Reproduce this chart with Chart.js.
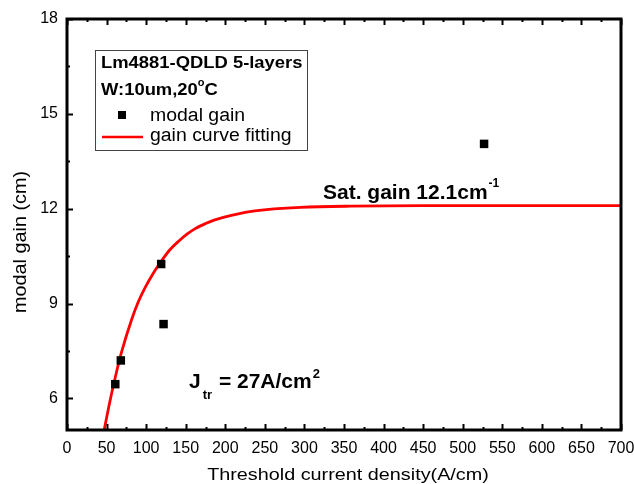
<!DOCTYPE html>
<html>
<head>
<meta charset="utf-8">
<script src="https://cdn.jsdelivr.net/npm/chart.js@4/dist/chart.umd.min.js"></script>
<style>
  html, body { margin: 0; padding: 0; background: #fff; }
  canvas { display: block; }
</style>
</head>
<body>
<canvas id="gain" width="634" height="484"></canvas>
<script>
// measured modal gain points
const gainX = [61, 68, 119, 122, 527];
const gainY = [6.45, 7.2, 10.25, 8.35, 14.05];

// fitted curve
const fitX = [44, 47, 54, 61, 69, 82, 90, 99, 110, 120, 130, 141, 152, 162, 175, 185, 200, 215, 235, 252, 295, 358, 450, 550, 700];
const fitY = [4.6, 5.0, 5.88, 6.67, 7.47, 8.52, 9.05, 9.52, 10.0, 10.37, 10.7, 10.97, 11.2, 11.37, 11.53, 11.63, 11.74, 11.83, 11.92, 11.97, 12.04, 12.08, 12.1, 12.1, 12.1];

// axis ticks
const xTicks = [0, 50, 100, 150, 200, 250, 300, 350, 400, 450, 500, 550, 600, 650, 700];
const yTicks = [6, 9, 12, 15, 18];
const xMinorStep = 25;
const yMinorStep = 1.5;

const FONT = '"Liberation Sans", Arial, sans-serif';

function toPoints(xs, ys) {
    return xs.map((x, i) => ({x: x, y: ys[i]}));
}

// text drawn a little wider than the font, like the original
function wideText(ctx, str, x, y, sx) {
    ctx.save();
    ctx.translate(x, y);
    ctx.scale(sx, 1);
    ctx.fillText(str, 0, 0);
    ctx.restore();
    return ctx.measureText(str).width * sx;
}

// draws frame, inward ticks, axis titles, the boxed legend and the notes
const decorations = {
    id: 'decorations',
    afterDraw(chart) {
        const ctx = chart.ctx;
        const a = chart.chartArea;
        const xs = chart.scales.x;
        const ys = chart.scales.y;
        ctx.save();

        // ticks
        ctx.strokeStyle = '#000';
        ctx.lineWidth = 2;
        for (let v = xs.min; v <= xs.max; v += xMinorStep) {
            const px = Math.round(xs.getPixelForValue(v)) + 0.5;
            const len = xTicks.includes(v) ? 6 : 3;
            ctx.beginPath();
            ctx.moveTo(px, a.bottom); ctx.lineTo(px, a.bottom - len);
            ctx.moveTo(px, a.top); ctx.lineTo(px, a.top + len);
            ctx.stroke();
        }
        for (let v = 6 - yMinorStep; v <= ys.max; v += yMinorStep) {
            if (v < ys.min) continue;
            const py = Math.round(ys.getPixelForValue(v)) + 0.5;
            const len = yTicks.includes(v) ? 6 : 3;
            ctx.beginPath();
            ctx.moveTo(a.left, py); ctx.lineTo(a.left + len, py);
            ctx.stroke();
        }

        // frame
        ctx.lineWidth = 3;
        ctx.strokeRect(a.left, a.top, a.right - a.left, a.bottom - a.top);

        // axis titles
        ctx.fillStyle = '#000';
        ctx.textAlign = 'center';
        ctx.textBaseline = 'alphabetic';
        ctx.font = '16.5px ' + FONT;
        wideText(ctx, 'Threshold current density(A/cm)', 348, 480, 1.2);
        ctx.save();
        ctx.translate(26, 242);
        ctx.rotate(-Math.PI / 2);
        ctx.font = '18px ' + FONT;
        wideText(ctx, 'modal gain (cm)', 0, 0, 1.1);
        ctx.restore();

        // legend box
        ctx.lineWidth = 1;
        ctx.strokeStyle = '#444';
        ctx.strokeRect(95.5, 50.5, 212, 100);
        ctx.textAlign = 'left';
        ctx.font = 'bold 16px ' + FONT;
        wideText(ctx, 'Lm4881-QDLD 5-layers', 101, 68, 1.15);
        let w = wideText(ctx, 'W:10um,20', 101, 95, 1.15);
        ctx.font = 'bold 10px ' + FONT;
        w += wideText(ctx, 'o', 101 + w, 86, 1.1);
        ctx.font = 'bold 16px ' + FONT;
        wideText(ctx, 'C', 101 + w, 95, 1.15);

        ctx.font = '18px ' + FONT;
        ctx.fillRect(118, 111, 8, 8);
        wideText(ctx, chart.data.datasets[0].label, 150, 121, 1.08);
        ctx.strokeStyle = '#ff0000';
        ctx.lineWidth = 2.5;
        ctx.beginPath();
        ctx.moveTo(102, 137); ctx.lineTo(143, 137);
        ctx.stroke();
        wideText(ctx, chart.data.datasets[1].label, 150, 141, 1.08);

        // notes
        ctx.font = 'bold 21px ' + FONT;
        w = wideText(ctx, 'Sat. gain 12.1cm', 323, 199, 1);
        ctx.font = 'bold 12px ' + FONT;
        wideText(ctx, '-1', 324 + w, 187, 1);

        ctx.font = 'bold 21px ' + FONT;
        w = wideText(ctx, 'J', 189, 388, 1);
        ctx.font = 'bold 13px ' + FONT;
        w += wideText(ctx, 'tr', 191 + w, 399, 1);
        ctx.font = 'bold 21px ' + FONT;
        w += wideText(ctx, ' = 27A/cm', 192 + w, 388, 1);
        ctx.font = 'bold 13px ' + FONT;
        wideText(ctx, '2', 193 + w, 378, 1);

        ctx.restore();
    }
};

new Chart(document.getElementById('gain'), {
    type: 'scatter',
    data: {
        datasets: [
            {
                label: 'modal gain',
                data: toPoints(gainX, gainY),
                pointStyle: 'rect',
                pointRadius: 6,
                backgroundColor: '#000',
                borderColor: '#000',
                borderWidth: 0,
                order: 0
            },
            {
                label: 'gain curve fitting',
                data: toPoints(fitX, fitY),
                showLine: true,
                pointRadius: 0,
                borderColor: '#ff0000',
                borderWidth: 2.8,
                cubicInterpolationMode: 'monotone',
                order: 1
            }
        ]
    },
    options: {
        responsive: false,
        animation: false,
        layout: {padding: {left: 0, top: 19, right: 13, bottom: 0}},
        plugins: {legend: {display: false}, tooltip: {enabled: false}},
        scales: {
            x: {
                type: 'linear',
                min: 0,
                max: 700,
                afterBuildTicks: s => { s.ticks = xTicks.map(v => ({value: v})); },
                afterFit: s => {
                    s.height = 54;
                    s.paddingLeft = 0;
                    s.paddingRight = 0;
                },
                grid: {display: false, drawTicks: false},
                border: {display: false},
                ticks: {color: '#000', font: {family: FONT, size: 16}, padding: 9, maxRotation: 0}
            },
            y: {
                type: 'linear',
                min: 5,
                max: 18,
                afterBuildTicks: s => { s.ticks = yTicks.map(v => ({value: v})); },
                afterFit: s => {
                    s.width = 67;
                    s.paddingTop = 0;
                    s.paddingBottom = 0;
                },
                grid: {display: false, drawTicks: false},
                border: {display: false},
                ticks: {color: '#000', font: {family: FONT, size: 16}, padding: 9}
            }
        }
    },
    plugins: [decorations]
});
</script>
</body>
</html>
